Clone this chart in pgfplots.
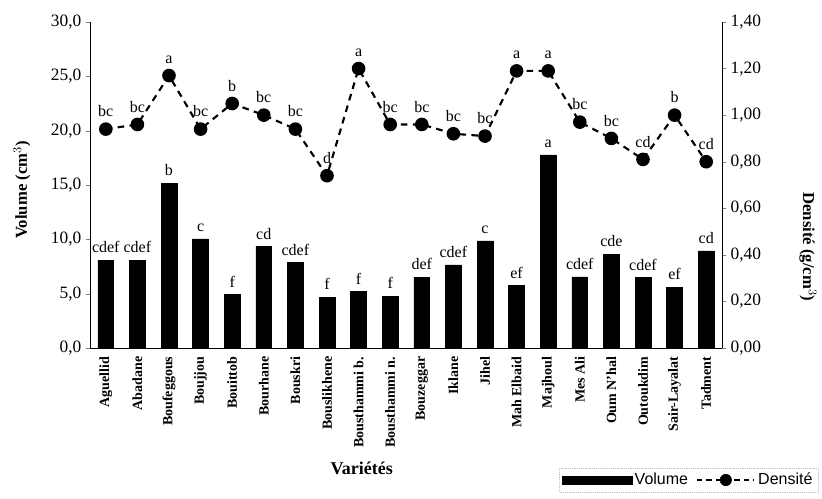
\documentclass[border=0pt]{standalone}
\usepackage{fontspec}
\setmainfont{Liberation Serif}
\newfontfamily\arialfont{Liberation Sans}
\usepackage{pgfplots}
\usepackage{pgfplotstable}
\pgfplotsset{compat=1.18}
\pgfplotstableread{
x vol vl dens dl
0 8.09 cdef 0.94 bc
1 8.09 cdef 0.96 bc
2 15.15 b 1.17 a
3 10.05 c 0.94 bc
4 4.91 f 1.05 b
5 9.33 cd 1.00 bc
6 7.85 cdef 0.94 bc
7 4.66 f 0.74 d
8 5.21 f 1.20 a
9 4.78 f 0.96 bc
10 6.51 def 0.96 bc
11 7.64 cdef 0.92 bc
12 9.85 c 0.91 bc
13 5.73 ef 1.19 a
14 17.78 a 1.19 a
15 6.55 cdef 0.97 bc
16 8.64 cde 0.90 bc
17 6.48 cdef 0.81 cd
18 5.57 ef 1.00 b
19 8.94 cd 0.80 cd
}\data
\begin{document}
\begin{tikzpicture}
\useasboundingbox (-67.5pt,-113.25pt) rectangle (549pt,261pt);
\begin{axis}[
  at={(0,0)}, anchor=south west,
  scale only axis, width=474pt, height=244.5pt,
  xmin=-0.5, xmax=19.5, ymin=0, ymax=30,
  axis x line*=bottom, axis y line*=left,
  axis line style={black, line width=0.5pt},
  ytick={0,5,...,30},
  tick align=outside, major tick length=3pt,
  yticklabel style={/pgf/number format/.cd, fixed, fixed zerofill, precision=1, use comma, assume math mode=true},
  tick label style={font=\fontsize{13}{15}\selectfont},
  xtick=data,
  x tick style={draw=none},
  xticklabels={Aguellid, Abadane, Boufeggous, Boujjou, Bouittob, Bourhane, Bouskri, Bouslikhene, Bousthammi b., Bousthammi n., Bouzeggar, Iklane, Jihel, Mah Elbaid, Majhoul, Mes Ali, Oum N'hal, Outoukdim, Sair-Layalat, Tadment},
  xticklabel style={rotate=90, anchor=east, font=\bfseries\fontsize{10.5}{12}\selectfont},
  ylabel={Volume (cm$^3$)},
  ylabel style={at={(axis description cs:-0.1076,0.485)}, anchor=center, font=\bfseries\fontsize{12.5}{14}\selectfont},
  xlabel={Variétés},
  xlabel style={at={(axis description cs:0.43,-0.368)}, anchor=center, font=\bfseries\fontsize{13.5}{15}\selectfont},
]
\addplot[ybar, bar width=0.5, fill=black, draw=black,
  nodes near coords, point meta=explicit symbolic,
  every node near coord/.style={font=\fontsize{12}{13}\selectfont, black, yshift=2pt}]
  table[x=x, y=vol, meta=vl] {\data};
\end{axis}
\begin{axis}[
  at={(0,0)}, anchor=south west,
  scale only axis, width=474pt, height=244.5pt,
  xmin=-0.5, xmax=19.5, ymin=0, ymax=1.4,
  axis x line=none, axis y line*=right,
  axis line style={black, line width=0.5pt},
  ytick={0,0.2,...,1.41},
  tick align=outside, major tick length=3pt,
  yticklabel style={/pgf/number format/.cd, fixed, fixed zerofill, precision=2, use comma, assume math mode=true},
  tick label style={font=\fontsize{13}{15}\selectfont},
  ylabel={Densité (g/cm$^3$)},
  ylabel style={at={(axis description cs:1.136,0.31)}, anchor=center, rotate=180, font=\bfseries\fontsize{12.5}{14}\selectfont},
  legend columns=2,
  legend style={at={(1.152,-0.405)}, anchor=east, draw=gray!50, densely dotted, font=\arialfont\fontsize{12}{13}\selectfont, inner sep=2pt,
    /tikz/every even column/.append style={column sep=4pt}},
]
\addlegendimage{legend image code/.code={\fill[black] (-14pt,-3pt) rectangle (38pt,3pt);}}
\addlegendentry{Volume}
\addlegendimage{legend image code/.code={\draw[black, solid, dash pattern=on 4pt off 3pt, line width=1.6pt] (0pt,0pt) -- (43pt,0pt); \fill[black] (21.5pt,0pt) circle (4.3pt);}}
\addlegendentry{Densité}
\addplot[black, dash pattern=on 5pt off 4pt, line width=1.6pt, mark=*, mark size=4.3pt, mark options={solid},
  nodes near coords, point meta=explicit symbolic,
  every node near coord/.style={font=\fontsize{12}{13}\selectfont, black, yshift=5pt}]
  table[x=x, y=dens, meta=dl] {\data};
\end{axis}
\end{tikzpicture}
\end{document}
